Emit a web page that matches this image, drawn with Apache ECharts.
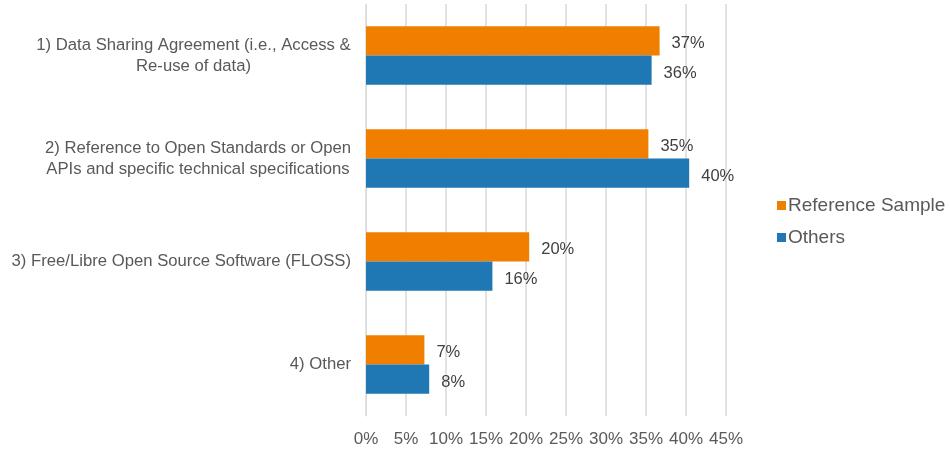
<!DOCTYPE html>
<html>
<head>
<meta charset="utf-8">
<script src="https://cdn.jsdelivr.net/npm/echarts@6/dist/echarts.min.js"></script>
<style>html,body{margin:0;padding:0;background:#fff}#c{width:950px;height:452px}</style>
</head>
<body>
<div id="c"></div>
<script>
const categories = [
  "1) Data Sharing Agreement (i.e., Access &\nRe-use of data)",
  "2) Reference to Open Standards or Open\nAPIs and specific technical specifications",
  "3) Free/Libre Open Source Software (FLOSS)",
  "4) Other"
];
const referenceSample = [36.7, 35.3, 20.4, 7.3];
const others = [35.7, 40.4, 15.8, 7.9];
const xTicks = [0, 5, 10, 15, 20, 25, 30, 35, 40, 45];

const chart = echarts.init(document.getElementById('c'));
const font = '"Liberation Sans", Arial, sans-serif';
const catSize = 16.7;
const labelStyle = {
  show: true, position: 'right', distance: 12, offset: [0, 3],
  color: '#404040', fontSize: 16.5, fontFamily: font,
  formatter: p => Math.round(p.value) + '%'
};
const richBase = { color: '#595959', fontSize: catSize, fontFamily: font, lineHeight: 21 };
chart.setOption({
  animation: false,
  grid: { left: 366, right: 224, top: 4, bottom: 36, containLabel: false },
  legend: {
    orient: 'vertical', left: 777, top: 196, padding: 0, itemWidth: 9, itemHeight: 9, itemGap: 13,
    icon: 'rect',
    textStyle: { color: '#595959', fontSize: 19, fontFamily: font, padding: [0, 0, 0, -3] },
    data: ['Reference Sample', 'Others']
  },
  xAxis: {
    type: 'value', min: xTicks[0], max: xTicks[xTicks.length - 1], interval: 5,
    axisLine: { show: false }, axisTick: { show: false },
    splitLine: { lineStyle: { color: '#D9D9D9', width: 1.5 } },
    axisLabel: { formatter: '{value}%', color: '#595959', fontSize: 17, fontFamily: font, margin: 15 }
  },
  yAxis: {
    type: 'category', inverse: true, data: categories,
    axisLine: { show: true, lineStyle: { color: '#D9D9D9' } }, axisTick: { show: false },
    axisLabel: {
      color: '#595959', fontSize: catSize, fontFamily: font, margin: 15, align: 'right', lineHeight: 21,
      formatter: (v, i) => v.split('\n').map(s => '{c' + i + '|' + s + '}').join('\n'),
      rich: {
        c0: Object.assign({ width: 315, align: 'center' }, richBase),
        c1: Object.assign({ width: 306, align: 'center' }, richBase),
        c2: richBase,
        c3: richBase
      }
    }
  },
  series: [
    { name: 'Reference Sample', type: 'bar', data: referenceSample, barGap: '0%', barCategoryGap: '43%',
      itemStyle: { color: '#F07F00' }, label: labelStyle },
    { name: 'Others', type: 'bar', data: others, barGap: '0%', barCategoryGap: '43%',
      itemStyle: { color: '#1F77B4' }, label: labelStyle }
  ]
});
</script>
</body>
</html>
